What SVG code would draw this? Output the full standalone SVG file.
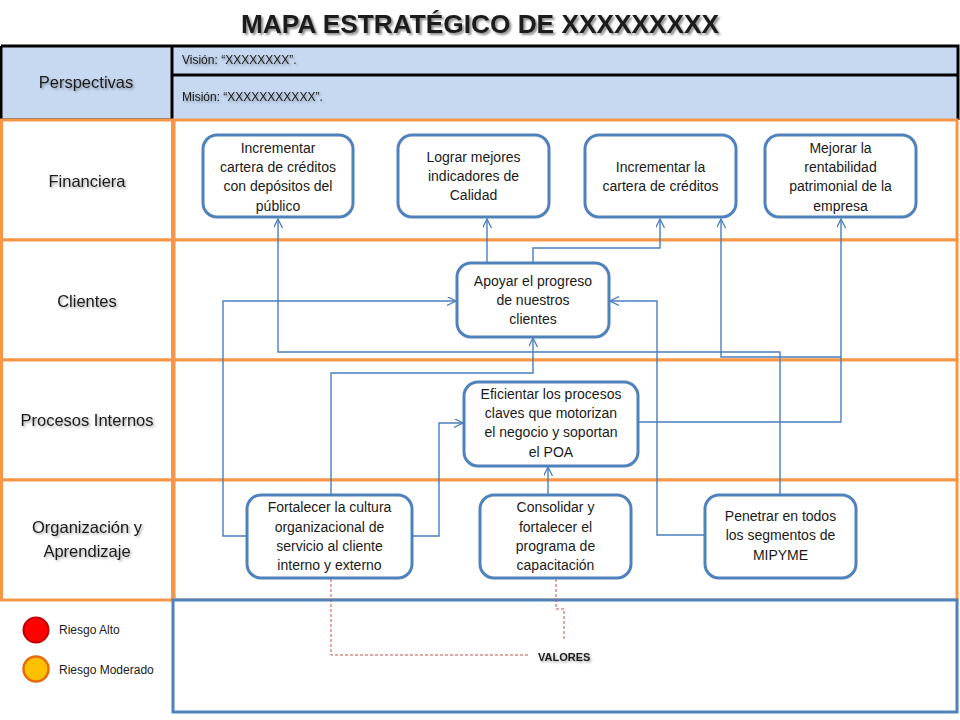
<svg xmlns="http://www.w3.org/2000/svg" width="960" height="720" viewBox="0 0 960 720">
<defs>
<style>
.lbl{font-family:"Liberation Sans",Arial,sans-serif;font-size:16.5px;fill:#1a1a1a;text-anchor:middle}
.nt{font-family:"Liberation Sans",Arial,sans-serif;font-size:14px;fill:#1a1a1a;text-anchor:middle}
.hd{font-family:"Liberation Sans",Arial,sans-serif;font-size:12px;fill:#1a1a1a}
.node{fill:#ffffff;stroke:#4f81bd;stroke-width:3}
.conn{fill:none;stroke:#4a7ebb;stroke-width:1.4}
.orow{fill:#ffffff;stroke:#f79646;stroke-width:3}
.blk{stroke:#000000;stroke-width:3;fill:none}
.dash{fill:none;stroke:#c0504d;stroke-width:1;stroke-dasharray:3,2}
</style>
<marker id="arr" markerWidth="10" markerHeight="10" refX="9" refY="4.5" orient="auto" markerUnits="userSpaceOnUse">
<path d="M0,0 L9,4.5 L0,9" fill="none" stroke="#4a7ebb" stroke-width="1.3"/>
</marker>
<filter id="sh" x="-10%" y="-30%" width="120%" height="160%">
<feDropShadow dx="1.5" dy="1.5" stdDeviation="0.8" flood-color="#000" flood-opacity="0.35"/>
</filter>
<filter id="tsh" x="-10%" y="-30%" width="120%" height="160%">
<feDropShadow dx="2" dy="2" stdDeviation="1.2" flood-color="#000" flood-opacity="0.45"/>
</filter>
</defs>
<rect width="960" height="720" fill="#ffffff"/>

<g id="title">
<text x="480" y="33" font-family="'Liberation Sans',Arial,sans-serif" font-size="26" font-weight="bold" fill="#1a1a1a" text-anchor="middle" textLength="478" lengthAdjust="spacingAndGlyphs" filter="url(#tsh)">MAPA ESTRATÉGICO DE XXXXXXXXX</text>
</g>

<g id="header">
<rect x="1" y="45" width="957" height="75" fill="#c6d9f1"/>
<path class="blk" d="M1,46 H958 V120 M1,46 V120 H172 M172,46 V120 M172,75 H958"/>
<text class="lbl" x="86" y="88" filter="url(#sh)">Perspectivas</text>
<text class="hd" x="182" y="64" filter="url(#sh)">Visión: “XXXXXXXX”.</text>
<text class="hd" x="182" y="101" filter="url(#sh)">Misión: “XXXXXXXXXXX”.</text>
</g>

<g id="rows">
<rect class="orow" x="1.5" y="120" width="171" height="120"/>
<rect class="orow" x="174" y="120" width="783" height="120"/>
<rect class="orow" x="1.5" y="240" width="171" height="120"/>
<rect class="orow" x="174" y="240" width="783" height="120"/>
<rect class="orow" x="1.5" y="360" width="171" height="120"/>
<rect class="orow" x="174" y="360" width="783" height="120"/>
<rect class="orow" x="1.5" y="480" width="171" height="120"/>
<rect class="orow" x="174" y="480" width="783" height="120"/>
<rect x="173" y="600" width="784" height="112" fill="#ffffff" stroke="#4f81bd" stroke-width="3"/>
<text class="lbl" x="87" y="187" filter="url(#sh)">Financiera</text>
<text class="lbl" x="87" y="307" filter="url(#sh)">Clientes</text>
<text class="lbl" x="87" y="426" filter="url(#sh)">Procesos Internos</text>
<text class="lbl" x="87" y="533" filter="url(#sh)">Organización y</text>
<text class="lbl" x="87" y="557" filter="url(#sh)">Aprendizaje</text>
</g>

<g id="connectors">
<polyline class="conn" points="780,495 780,352 278,352 278,219" marker-end="url(#arr)"/>
<polyline class="conn" points="487,263 487,219" marker-end="url(#arr)"/>
<polyline class="conn" points="533,263 533,248 660,248 660,219" marker-end="url(#arr)"/>
<polyline class="conn" points="639,422 841,422 841,219" marker-end="url(#arr)"/>
<polyline class="conn" points="841,357 721,357 721,219" marker-end="url(#arr)"/>
<polyline class="conn" points="247,536 223,536 223,301 456,301" marker-end="url(#arr)"/>
<polyline class="conn" points="705,535 657,535 657,301 610,301" marker-end="url(#arr)"/>
<polyline class="conn" points="331,495 331,373 533,373 533,338" marker-end="url(#arr)"/>
<polyline class="conn" points="412,536 439,536 439,423 463,423" marker-end="url(#arr)"/>
<polyline class="conn" points="548,495 548,467" marker-end="url(#arr)"/>
<polyline class="dash" points="331,579 331,655 530,655"/>
<polyline class="dash" points="556,579 556,609 564,609 564,641"/>
</g>

<g id="n1">
<rect class="node" x="203" y="135" width="150" height="82" rx="14"/>
<text class="nt" x="278" y="153">Incrementar</text>
<text class="nt" x="278" y="172">cartera de créditos</text>
<text class="nt" x="278" y="191">con depósitos  del</text>
<text class="nt" x="278" y="211">público</text>
</g>
<g id="n2">
<rect class="node" x="398" y="135" width="151" height="82" rx="14"/>
<text class="nt" x="473.5" y="162">Lograr mejores</text>
<text class="nt" x="473.5" y="181">indicadores de</text>
<text class="nt" x="473.5" y="200">Calidad</text>
</g>
<g id="n3">
<rect class="node" x="585" y="135" width="151" height="82" rx="14"/>
<text class="nt" x="660.5" y="172">Incrementar la</text>
<text class="nt" x="660.5" y="191">cartera de créditos</text>
</g>
<g id="n4">
<rect class="node" x="765" y="135" width="151" height="82" rx="14"/>
<text class="nt" x="840.5" y="153">Mejorar la</text>
<text class="nt" x="840.5" y="172">rentabilidad</text>
<text class="nt" x="840.5" y="191">patrimonial de la</text>
<text class="nt" x="840.5" y="211">empresa</text>
</g>
<g id="n5">
<rect class="node" x="457" y="263" width="152" height="74" rx="14"/>
<text class="nt" x="533" y="286">Apoyar el progreso</text>
<text class="nt" x="533" y="305">de nuestros</text>
<text class="nt" x="533" y="324">clientes</text>
</g>
<g id="n6">
<rect class="node" x="464" y="382" width="174" height="84" rx="14"/>
<text class="nt" x="551" y="399">Eficientar los procesos</text>
<text class="nt" x="551" y="418">claves que motorizan</text>
<text class="nt" x="551" y="437">el negocio y soportan</text>
<text class="nt" x="551" y="457">el POA</text>
</g>
<g id="n7">
<rect class="node" x="247" y="495" width="165" height="83" rx="14"/>
<text class="nt" x="329.5" y="512">Fortalecer la cultura</text>
<text class="nt" x="329.5" y="532">organizacional de</text>
<text class="nt" x="329.5" y="551">servicio al cliente</text>
<text class="nt" x="329.5" y="570">interno y externo</text>
</g>
<g id="n8">
<rect class="node" x="480" y="495" width="151" height="83" rx="14"/>
<text class="nt" x="555.5" y="512">Consolidar y</text>
<text class="nt" x="555.5" y="532">fortalecer el</text>
<text class="nt" x="555.5" y="551">programa de</text>
<text class="nt" x="555.5" y="570">capacitación</text>
</g>
<g id="n9">
<rect class="node" x="705" y="495" width="151" height="83" rx="14"/>
<text class="nt" x="780.5" y="521">Penetrar en todos</text>
<text class="nt" x="780.5" y="540">los segmentos de</text>
<text class="nt" x="780.5" y="560">MIPYME</text>
</g>

<g id="legend">
<circle cx="36" cy="630" r="12.5" fill="#ff0000" stroke="#c00000" stroke-width="2"/>
<text class="hd" x="59" y="634" font-size="12">Riesgo Alto</text>
<circle cx="36" cy="669" r="12.5" fill="#ffc000" stroke="#e46c0a" stroke-width="2.5"/>
<text class="hd" x="59" y="674" font-size="12">Riesgo Moderado</text>
</g>

<g id="valores">
<text x="538" y="661" font-family="'Liberation Sans',Arial,sans-serif" font-size="11" font-weight="bold" fill="#1a1a1a" filter="url(#sh)">VALORES</text>
</g>
</svg>
